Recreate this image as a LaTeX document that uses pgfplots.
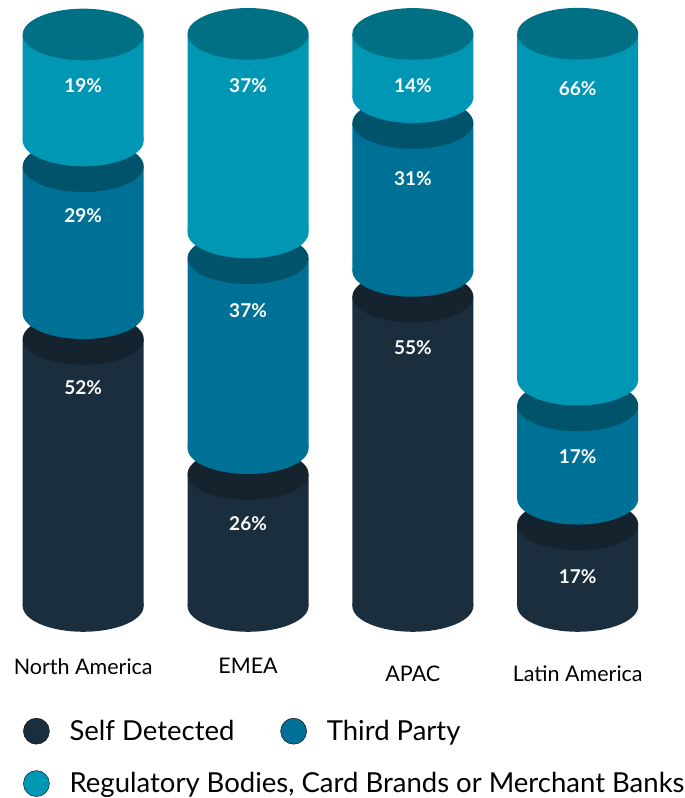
\documentclass[border=0pt]{standalone}
\usepackage{fontspec}
\setmainfont{Lato}
\usepackage{pgfplots}
\usepackage{pgfplotstable}
\pgfplotsset{compat=1.18}

\definecolor{dark}{HTML}{1A2E3D}
\definecolor{darkcap}{HTML}{14232D}
\definecolor{teal}{HTML}{007196}
\definecolor{tealcap}{HTML}{00536B}
\definecolor{light}{HTML}{0097B5}
\definecolor{lightcap}{HTML}{007085}

% ellipse used for the ends of the cylinders
\pgfdeclareplotmark{ell}{%
  \pgfpathellipse{\pgfpointorigin}{\pgfqpoint{60.5pt}{0pt}}{\pgfqpoint{0pt}{25.8pt}}%
  \pgfusepathqfill}

% segment heights as drawn (they are not strictly proportional to the printed labels)
\pgfplotstableread{
x dark gap teal light zero
0 46.68 4.5 25.70 18.53 0
1 23.08 4.5 33.22 34.72 0
2 54.07 4.5 25.87 11.07 0
3 14.25 4.5 16.31 60.49 0
}\heights

% printed labels: x, position of the label, value
\pgfplotstableread{
x y label
0 38.29 52
0 68.36 29
0 91.08 19
1 14.56 26
1 51.75 37
1 91.08 37
2 45.28 55
2 74.83 31
2 91.08 14
3 5.30 17
3 26.22 17
3 90.56 66
}\labels

\pgfplotsset{
  base/.style={
    at={(0pt,0pt)}, anchor=south west,
    scale only axis, width=685pt, height=798pt,
    xmin=-0.5048, xmax=3.651,
    ymin=-33.57, ymax=105.94,
    clip=false,
  },
  cap/.style={draw=none, fill=none, mark=ell, mark options={draw=none, fill=#1}},
  seg/.style={draw=none, fill=#1},
}

\begin{document}
\begin{tikzpicture}
\useasboundingbox (0pt,0pt) rectangle (685pt,798pt);
\begin{axis}[
    base,
    ybar stacked, bar width=121pt,
    reverse stacked plots=false,
    stacked ignores zero=false,
    axis line style={draw=none},
    ytick=\empty,
    xtick={0,1,2,3},
    xticklabels={
        \raisebox{0pt}[0pt][0pt]{North America},
        \raisebox{1pt}[0pt][0pt]{EMEA},
        \raisebox{-7.5pt}[0pt][0pt]{APAC},
        \raisebox{-7.5pt}[0pt][0pt]{Latin America}},
    major tick length=0pt,
    xticklabel style={anchor=center, yshift=123.8pt, font=\fontsize{21.5}{26}\selectfont, text=black},
]
    % dark: base ellipse, body, top
    \addplot[cap=dark] table[x=x, y=zero] {\heights};
    \addplot[seg=dark] table[x=x, y=dark] {\heights};
    \addplot[cap=darkcap] table[x=x, y=zero] {\heights};
    \addplot[draw=none, fill=none] table[x=x, y=gap] {\heights};
    % teal
    \addplot[cap=teal] table[x=x, y=zero] {\heights};
    \addplot[seg=teal] table[x=x, y=teal] {\heights};
    \addplot[cap=tealcap] table[x=x, y=zero] {\heights};
    \addplot[draw=none, fill=none] table[x=x, y=gap] {\heights};
    % light
    \addplot[cap=light] table[x=x, y=zero] {\heights};
    \addplot[seg=light] table[x=x, y=light] {\heights};
    \addplot[cap=lightcap] table[x=x, y=zero] {\heights};
\end{axis}
\begin{axis}[
    base,
    hide axis,
    legend columns=2,
    legend cell align=left,
    legend image code/.code={\fill[#1] (0pt,0pt) circle (13pt);},
    legend style={
        at={(rel axis cs:0,0)}, anchor=south west,
        xshift=23pt, yshift=1pt,
        draw=none, fill=none, inner sep=0pt,
        font=\fontsize{27.5}{33}\selectfont,
        /tikz/column 1/.style={column sep=18pt},
        /tikz/column 2/.style={column sep=44pt},
        /tikz/column 3/.style={column sep=18pt},
        /tikz/row sep=26pt,
    },
]
    \addplot[forget plot, only marks, mark=none, point meta=explicit symbolic,
        nodes near coords={\pgfplotspointmeta\%},
        every node near coord/.append style={anchor=center, yshift=-1pt, text=white,
            font=\fontsize{19}{23}\selectfont\bfseries}]
        table[x=x, y=y, meta=label] {\labels};
    \addlegendimage{fill=dark}
    \addlegendentry{Self Detected}
    \addlegendimage{fill=teal}
    \addlegendentry{Third Party}
    \addlegendimage{fill=light}
    \addlegendentry{\rlap{Regulatory Bodies, Card Brands or Merchant Banks}}
\end{axis}
\end{tikzpicture}
\end{document}
